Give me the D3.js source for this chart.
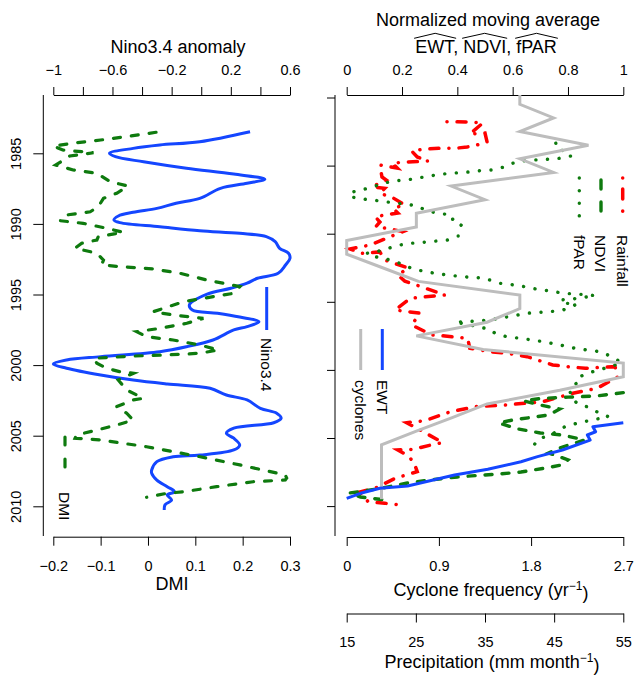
<!DOCTYPE html>
<html>
<head>
<meta charset="utf-8">
<script src="https://cdn.jsdelivr.net/npm/d3@7"></script>
<style>
	body { margin: 0; background: #fff; }
	svg { display: block; font-family: "Liberation Sans", Arial, Helvetica, sans-serif; }
</style>
</head>
<body>
<div id="chart"></div>
<script>
// ---- left panel: Nino3.4 (top axis) and DMI (bottom axis) vs year
var yearTicks = [1985, 1990, 1995, 2000, 2005, 2010];
var ninoTicks = [-1, -0.8, -0.6, -0.4, -0.2, 0, 0.2, 0.4, 0.6];
var ninoTickLabels = ["−1", "", "−0.6", "", "−0.2", "", "0.2", "", "0.6"];
var dmiTicks = [-0.2, -0.1, 0, 0.1, 0.2, 0.3];
var dmiTickLabels = ["−0.2", "−0.1", "0", "0.1", "0.2", "0.3"];

var ninoYear = [1983.47, 1984.18, 1984.41, 1984.65, 1985.0, 1985.24, 1985.6, 1986.06, 1986.47, 1986.84,
	1987.12, 1987.48, 1988.19, 1988.54, 1988.9, 1989.18, 1989.44, 1989.72, 1989.91, 1990.2,
	1990.48, 1990.67, 1990.9, 1991.26, 1991.73, 1992.08, 1992.44, 1992.91, 1993.5, 1993.85,
	1994.2, 1994.56, 1994.98, 1995.74, 1996.1, 1996.33, 1996.6, 1996.93, 1997.28, 1997.51,
	1998.22, 1998.7, 1999.05, 1999.4, 1999.64, 1999.92, 2000.22, 2000.7, 2001.06, 2001.34,
	2001.64, 2002.12, 2002.47, 2003.06, 2003.41, 2003.77, 2004.08, 2004.47, 2004.83, 2005.18,
	2005.66, 2006.01, 2006.37, 2006.49, 2006.84, 2007.43, 2007.66, 2008.14, 2008.61, 2008.97,
	2009.2, 2009.55, 2009.9, 2010.26];
var ninoVal = [0.33, -0.01, -0.28, -0.46, -0.62, -0.58, -0.39, -0.10, 0.22, 0.43,
	0.31, 0.13, -0.01, -0.17, -0.30, -0.46, -0.56, -0.59, -0.55, -0.28,
	-0.01, 0.26, 0.44, 0.50, 0.53, 0.59, 0.60, 0.57, 0.52, 0.38,
	0.31, 0.20, 0.04, -0.08, -0.06, 0.11, 0.26, 0.39, 0.31, 0.22,
	0.08, -0.10, -0.28, -0.68, -0.91, -1.0, -0.91, -0.68, -0.46, -0.23,
	0.06, 0.17, 0.31, 0.40, 0.51, 0.54, 0.49, 0.22, 0.17, 0.22,
	0.26, 0.22, -0.01, -0.19, -0.30, -0.335, -0.335, -0.30, -0.23, -0.18,
	-0.23, -0.20, -0.245, -0.25];

var dmiYear = [1983.51, 1983.82, 1984.06, 1984.25, 1984.48, 1984.77, 1984.96, 1985.19, 1985.83, 1986.18,
	1986.42, 1987.01, 1987.32, 1987.83, 1988.19, 1988.78, 1989.14, 1989.37, 1989.77, 1989.96,
	1990.31, 1990.6, 1990.9, 1991.14, 1991.37, 1991.73, 1991.85, 1992.08, 1992.56, 1992.91,
	1993.03, 1993.19, 1993.5, 1993.97, 1994.44, 1994.92, 1995.15, 1995.51, 1996.22, 1996.45,
	1996.69, 1997.04, 1997.4, 1997.63, 1997.99, 1998.22, 1998.58, 1998.93, 1999.16, 1999.28,
	1999.36, 1999.52, 1999.87, 2000.23, 2000.47, 2000.58, 2001.05, 2001.76, 2002.35, 2002.47,
	2002.94, 2003.41, 2003.89, 2004.24, 2004.6, 2004.95, 2005.18, 2005.3, 2005.78, 2006.49,
	2007.07, 2007.78, 2008.0, 2008.14, 2008.26, 2008.61, 2008.97, 2009.08, 2009.36];
var dmiVal = [0.017, -0.045, -0.10, -0.15, -0.20, -0.18, -0.115, -0.165, -0.195, -0.158,
	-0.108, -0.08, -0.042, -0.066, -0.094, -0.105, -0.122, -0.172, -0.186, -0.137,
	-0.087, -0.052, -0.105, -0.108, -0.14, -0.154, -0.137, -0.108, -0.094, -0.098,
	-0.059, 0.011, 0.068, 0.124, 0.194, 0.18, 0.138, 0.075, 0.011, 0.053,
	0.117, 0.082, 0.025, -0.024, -0.003, 0.053, 0.11, 0.149, 0.11, 0.04,
	-0.031, -0.115, -0.108, -0.087, -0.059, -0.031, -0.063, -0.045, -0.01, -0.031,
	-0.066, -0.045, -0.031, -0.066, -0.108, -0.151, -0.154, -0.101, -0.003, 0.11,
	0.194, 0.29, 0.293, 0.29, 0.222, 0.145, 0.075, 0.04, -0.003];

// ---- right panel: normalized series, cyclones, rainfall
var rightYearTicks = [1980, 1985, 1990, 1995, 2000, 2005, 2010];
var normTicks = [0, 0.2, 0.4, 0.6, 0.8, 1];
var normTickLabels = ["0", "0.2", "0.4", "0.6", "0.8", "1"];
var cycTicks = [0, 0.9, 1.8, 2.7];
var cycTickLabels = ["0", "0.9", "1.8", "2.7"];
var preTicks = [15, 25, 35, 45, 55];
var preTickLabels = ["15", "25", "35", "45", "55"];

var cycYear = d3.range(1979, 2010);
var cycFreq = [1.69, 1.69, 2.02, 1.69, 2.36, 1.69, 2.02, 1.02, 1.35, 0.68,
	0.68, 0, 0, 0.35, 0.70, 1.69, 1.69, 1.37, 0.68, 1.33,
	2.7, 2.7, 2.08, 1.37, 1.03, 0.68, 0.34, 0.34, 0.34, 0.34, 0.34];

var ewtYear = [2003.88, 2004.17, 2004.54, 2004.78, 2005.15, 2005.88, 2006.37, 2006.74, 2007.3, 2007.72,
	2008.52, 2008.69, 2009.06, 2009.43];
var ewtVal = [1.0, 0.89, 0.90, 0.87, 0.88, 0.78, 0.69, 0.63, 0.51, 0.39,
	0.22, 0.12, 0.05, 0.0];

var ndviYear = [2001.67, 2001.92, 2002.0, 2002.1, 2002.28, 2002.58, 2002.87, 2003.31, 2003.68, 2003.9,
	2004.34, 2004.63, 2004.78, 2005.15, 2005.66, 2006.1, 2006.6, 2006.97, 2007.2, 2007.5,
	2007.64, 2007.86, 2008.08, 2008.3, 2008.67, 2008.9, 2009.04, 2009.33, 2009.55];
var ndviVal = [1.0, 0.9, 0.8, 0.7, 0.64, 0.7, 0.77, 0.73, 0.6, 0.55,
	0.62, 0.7, 0.78, 0.86, 0.78, 0.73, 0.8, 0.78, 0.72, 0.63,
	0.55, 0.4, 0.3, 0.22, 0.13, 0.06, 0.01, 0.05, 0.14];

var fparYear = [1983.36, 1983.80, 1983.98, 1984.30, 1984.46, 1984.54, 1984.59, 1984.66, 1984.88, 1985.12,
	1985.32, 1985.37, 1985.47, 1985.54, 1985.62, 1985.74, 1985.89, 1986.06, 1986.11, 1986.30,
	1986.55, 1986.79, 1986.99, 1987.33, 1987.47, 1987.58, 1987.72, 1987.82, 1987.96, 1988.31,
	1988.50, 1988.63, 1988.94, 1989.29, 1989.73, 1990.17, 1990.46, 1990.54, 1990.63, 1990.70,
	1990.83, 1991.07, 1991.32, 1991.44, 1991.71, 1991.93, 1992.22, 1992.61, 1992.79, 1992.91,
	1993.03, 1993.11, 1993.20, 1993.25, 1993.64, 1993.77, 1993.94, 1994.13, 1994.19, 1994.38,
	1994.43, 1994.50, 1994.54, 1994.76, 1994.87, 1995.11, 1995.18, 1995.60, 1995.73, 1995.77,
	1995.84, 1996.04, 1996.19, 1996.34, 1996.39, 1996.46, 1996.48, 1997.02, 1997.31, 1997.56,
	1997.68, 1997.80, 1997.93, 1998.17, 1998.41, 1998.54, 1998.66, 1999.03, 1999.47, 1999.77,
	2000.01, 2000.26, 2000.50, 2000.87, 2001.11, 2001.48, 2001.92, 2002.45, 2002.70, 2003.07,
	2003.44, 2003.71, 2003.92, 2004.17, 2004.66, 2005.15, 2005.64, 2006.01];
var fparVal = [0.756, 0.759, 0.801, 0.81, 0.771, 0.723, 0.675, 0.633, 0.59, 0.566,
	0.524, 0.482, 0.44, 0.392, 0.349, 0.307, 0.265, 0.217, 0.175, 0.132,
	0.096, 0.054, 0.009, 0.024, 0.066, 0.114, 0.163, 0.211, 0.253, 0.289,
	0.331, 0.38, 0.383, 0.416, 0.403, 0.403, 0.367, 0.323, 0.277, 0.235,
	0.193, 0.15, 0.108, 0.072, 0.108, 0.157, 0.199, 0.241, 0.289, 0.319,
	0.362, 0.398, 0.446, 0.494, 0.554, 0.608, 0.657, 0.699, 0.735, 0.783,
	0.832, 0.873, 0.898, 0.832, 0.771, 0.795, 0.832, 0.783, 0.735, 0.699,
	0.651, 0.601, 0.554, 0.518, 0.476, 0.434, 0.392, 0.518, 0.536, 0.578,
	0.627, 0.669, 0.711, 0.771, 0.825, 0.868, 0.916, 0.958, 0.994, 0.952,
	0.91, 0.868, 0.843, 0.843, 0.819, 0.807, 0.81, 0.832, 0.868, 0.904,
	0.946, 0.88, 0.832, 0.789, 0.747, 0.687, 0.675, 0.699];

var rainYear = [1981.78, 1981.80, 1981.87, 1982.68, 1982.61, 1983.27, 1983.49, 1983.64, 1983.71, 1983.73,
	1983.80, 1983.93, 1984.37, 1984.66, 1984.77, 1984.83, 1985.18, 1984.96, 1985.84, 1986.06,
	1986.55, 1986.67, 1987.03, 1987.40, 1987.89, 1988.13, 1988.48, 1988.75, 1989.14, 1989.49,
	1989.65, 1989.85, 1990.83, 1991.12, 1991.44, 1991.34, 1991.93, 1992.52, 1993.04, 1993.48,
	1994.13, 1994.50, 1994.74, 1995.60, 1995.84, 1996.70, 1997.43, 1997.51, 1997.68, 1998.41,
	1998.66, 1998.78, 1999.03, 1999.64, 1999.76, 1999.88, 1999.76, 2000.52, 2001.35, 2001.72,
	2002.33, 2002.58, 2002.70, 2003.09, 2003.73, 2003.88, 2004.41, 2005.34, 2005.51, 2005.83,
	2005.88, 2006.25, 2006.76, 2007.47, 2007.96, 2008.69, 2008.96, 2009.68, 2009.79, 2009.92];
var rainVal = [29.5, 32.8, 34.7, 32.8, 35.0, 35.3, 33.8, 32.4, 31.0, 28.5,
	26.0, 24.4, 25.2, 26.8, 22.7, 21.6, 22.3, 19.8, 20.1, 20.7,
	18.7, 20.5, 19.8, 21.8, 23.4, 21.7, 22.4, 19.1, 19.8, 19.2,
	21.3, 23.1, 18.4, 15.5, 17.2, 19.8, 20.5, 23.9, 22.4, 23.4,
	27.1, 29.2, 24.2, 22.0, 25.6, 24.4, 27.3, 29.2, 32.5, 32.8,
	35.7, 38.2, 41.1, 44.8, 46.9, 49.5, 53.8, 54.2, 51.2, 47.7,
	43.4, 37.9, 33.6, 29.9, 26.3, 23.7, 25.6, 28.9, 27.2, 24.6,
	22.4, 23.7, 24.7, 25.2, 22.0, 19.1, 16.9, 18.1, 20.5, 23.0];

var BLUE = "#1446ff", GREEN = "#0e7a0e", RED = "#ff0000", GRAY = "#bdbdbd";
var TICK_FONT = 14.5, TITLE_FONT = 18, LEG_FONT = 15.5;

var svg = d3.select("#chart").append("svg")
	.attr("width", 634)
	.attr("height", 675);
svg.append("rect").attr("width", 634).attr("height", 675).attr("fill", "#fff");

var defs = svg.append("defs");
defs.append("clipPath").attr("id", "clipL").append("rect")
	.attr("x", 43.8).attr("y", 95).attr("width", 255.7).attr("height", 441.7);
defs.append("clipPath").attr("id", "clipR").append("rect")
	.attr("x", 335.6).attr("y", 95).attr("width", 300).attr("height", 441.7);

// scales
var yL = d3.scaleLinear().domain([1985, 2010]).range([153.3, 506.3]);
var xNino = d3.scaleLinear().domain([-1, 0.6]).range([53.3, 290]);
var xDmi = d3.scaleLinear().domain([-0.2, 0.3]).range([53.3, 290]);

var yR = d3.scaleLinear().domain([1980, 2010]).range([97.5, 506.1]);
var xNorm = d3.scaleLinear().domain([0, 1]).range([346.7, 623.3]);
var xCyc = d3.scaleLinear().domain([0, 2.7]).range([346.7, 623.3]);
var xPre = d3.scaleLinear().domain([15, 55]).range([346.7, 623.3]);

function styleAxis(g) {
	g.attr("font-size", null).attr("font-family", null);
	g.selectAll("text").style("font-size", TICK_FONT + "px").attr("fill", "#000");
	g.selectAll("line, path").attr("stroke", "#000").attr("stroke-width", 1);
}

function labelsFrom(arr) {
	return function(d, i) { return arr[i]; };
}

// ---- left panel axes
svg.append("g")
	.attr("transform", "translate(0,95)")
	.call(d3.axisTop(xNino).tickValues(ninoTicks).tickSize(8).tickSizeOuter(0).tickPadding(12)
		.tickFormat(labelsFrom(ninoTickLabels)))
	.call(styleAxis);

svg.append("g")
	.attr("transform", "translate(0,536.7)")
	.call(d3.axisBottom(xDmi).tickValues(dmiTicks).tickSize(9).tickSizeOuter(0).tickPadding(15)
		.tickFormat(labelsFrom(dmiTickLabels)))
	.call(styleAxis);

var yAxL = svg.append("g")
	.attr("transform", "translate(43.3,0)")
	.call(d3.axisLeft(yL).tickValues(yearTicks).tickSize(10).tickFormat(d3.format("d")))
	.call(styleAxis);
yAxL.select(".domain").remove();
yAxL.selectAll("text")
	.attr("x", null).attr("dy", null)
	.attr("text-anchor", "middle")
	.attr("transform", "translate(-22.6,0) rotate(-90)");
yAxL.append("line").attr("x1", 0).attr("x2", 0).attr("y1", 95).attr("y2", 536)
	.attr("stroke", "#000");

// ---- right panel axes
svg.append("g")
	.attr("transform", "translate(0,95)")
	.call(d3.axisTop(xNorm).tickValues(normTicks).tickSize(8).tickSizeOuter(0).tickPadding(12)
		.tickFormat(labelsFrom(normTickLabels)))
	.call(styleAxis);

svg.append("g")
	.attr("transform", "translate(0,537)")
	.call(d3.axisBottom(xCyc).tickValues(cycTicks).tickSize(9).tickSizeOuter(0).tickPadding(15)
		.tickFormat(labelsFrom(cycTickLabels)))
	.call(styleAxis);

svg.append("g")
	.attr("transform", "translate(0,613.5)")
	.call(d3.axisBottom(xPre).tickValues(preTicks).tickSize(9).tickSizeOuter(0).tickPadding(14)
		.tickFormat(labelsFrom(preTickLabels)))
	.call(styleAxis);

var yAxR = svg.append("g")
	.attr("transform", "translate(335,0)")
	.call(d3.axisLeft(yR).tickValues(rightYearTicks).tickSize(8).tickFormat(""))
	.call(styleAxis);
yAxR.select(".domain").remove();
yAxR.append("line").attr("x1", 0).attr("x2", 0).attr("y1", 95).attr("y2", 536)
	.attr("stroke", "#000");

// ---- titles
function title(x, y, parts) {
	var t = svg.append("text").attr("x", x).attr("y", y)
		.attr("text-anchor", "middle")
		.style("font-size", TITLE_FONT + "px");
	parts.forEach(function(p) {
		var s = t.append("tspan").text(p.t);
		if (p.sup) s.attr("dy", "-0.5em").style("font-size", "12px");
		if (p.down) s.attr("dy", "0.5em");
	});
	return t;
}
title(178, 53, [{t: "Nino3.4 anomaly"}]);
title(172, 590, [{t: "DMI"}]);
title(488, 26, [{t: "Normalized moving average"}]);
title(491, 596, [{t: "Cyclone frequency (yr"}, {t: "−1", sup: true}, {t: ")", down: true}]);
title(492, 667.5, [{t: "Precipitation (mm month"}, {t: "−1", sup: true}, {t: ")", down: true}]);

// hatted names
var hatWords = [{t: "EWT", hat: true}, {t: ", "}, {t: "NDVI", hat: true}, {t: ", "}, {t: "fPAR", hat: true}];
var hatText = svg.append("text").attr("x", 486).attr("y", 52.5)
	.attr("text-anchor", "middle")
	.style("font-size", TITLE_FONT + "px")
	.attr("xml:space", "preserve");
var hatSpans = hatWords.map(function(w) {
	return {w: w, node: hatText.append("tspan").text(w.t).node()};
});
hatSpans.forEach(function(s) {
	if (!s.w.hat) return;
	var bb = s.node.getBBox();
	var x0 = bb.x - 1, x1 = bb.x + bb.width + 1;
	svg.append("path")
		.attr("d", "M" + x0 + ",38.3 L" + ((x0 + x1) / 2) + ",33.3 L" + x1 + ",38.3")
		.attr("fill", "none").attr("stroke", "#000").attr("stroke-width", 1);
});

// ---- series
function pairs(a, b) { return d3.zip(a, b); }

var gL = svg.append("g").attr("clip-path", "url(#clipL)");
gL.append("path")
	.datum(pairs(ninoYear, ninoVal))
	.attr("d", d3.line().curve(d3.curveCatmullRom)
		.x(function(d) { return xNino(d[1]); })
		.y(function(d) { return yL(d[0]); }))
	.attr("fill", "none").attr("stroke", BLUE).attr("stroke-width", 3)
	.attr("stroke-linejoin", "round");
gL.append("path")
	.datum(pairs(dmiYear, dmiVal))
	.attr("d", d3.line()
		.x(function(d) { return xDmi(d[1]); })
		.y(function(d) { return yL(d[0]); }))
	.attr("fill", "none").attr("stroke", GREEN).attr("stroke-width", 3.2)
	.attr("stroke-dasharray", "7,11").attr("stroke-linecap", "round");

var gR = svg.append("g").attr("clip-path", "url(#clipR)");
var normLine = d3.line()
	.x(function(d) { return xNorm(d[1]); })
	.y(function(d) { return yR(d[0]); });

gR.append("path")
	.datum(pairs(rainYear, rainVal))
	.attr("d", d3.line()
		.x(function(d) { return xPre(d[1]); })
		.y(function(d) { return yR(d[0]); }))
	.attr("fill", "none").attr("stroke", RED).attr("stroke-width", 3.5)
	.attr("stroke-dasharray", "0.1,10,9,10").attr("stroke-linecap", "round");
gR.append("path")
	.datum(pairs(fparYear, fparVal))
	.attr("d", normLine)
	.attr("fill", "none").attr("stroke", GREEN).attr("stroke-width", 3.4)
	.attr("stroke-dasharray", "0.1,11.5").attr("stroke-linecap", "round");
gR.append("path")
	.datum(pairs(ndviYear, ndviVal))
	.attr("d", normLine)
	.attr("fill", "none").attr("stroke", GREEN).attr("stroke-width", 3.4)
	.attr("stroke-dasharray", "7,10").attr("stroke-linecap", "round");
// cyclone counts are seasonal, plotted at mid-year
gR.append("path")
	.datum(pairs(cycYear, cycFreq))
	.attr("d", d3.line()
		.x(function(d) { return xCyc(d[1]); })
		.y(function(d) { return yR(d[0] + 0.5); }))
	.attr("fill", "none").attr("stroke", GRAY).attr("stroke-width", 3);
gR.append("path")
	.datum(pairs(ewtYear, ewtVal))
	.attr("d", normLine)
	.attr("fill", "none").attr("stroke", BLUE).attr("stroke-width", 3)
	.attr("stroke-linejoin", "round");

// ---- legends (vertical, text reading downwards)
var legends = [
	{x: 266.7, y0: 287, y1: 330, ty: 338, label: "Nino3.4", color: BLUE, w: 3, dash: null},
	{x: 65, y0: 437, y1: 470, ty: 492, label: "DMI", color: GREEN, w: 3.2, dash: "8,14"},
	{x: 622.7, y0: 178, y1: 213.5, ty: 235, label: "Rainfall", color: RED, w: 3.5, dash: "0.1,11,10,12"},
	{x: 601, y0: 180, y1: 212, ty: 235, label: "NDVI", color: GREEN, w: 3.4, dash: "9,13"},
	{x: 579.3, y0: 178, y1: 216, ty: 235, label: "fPAR", color: GREEN, w: 3.4, dash: "0.1,12.5"},
	{x: 382.3, y0: 329, y1: 370, ty: 380, label: "EWT", color: BLUE, w: 3, dash: null},
	{x: 360.7, y0: 329, y1: 370, ty: 380, label: "cyclones", color: GRAY, w: 3, dash: null}
];
legends.forEach(function(l) {
	var ln = svg.append("line")
		.attr("x1", l.x).attr("x2", l.x).attr("y1", l.y0).attr("y2", l.y1)
		.attr("stroke", l.color).attr("stroke-width", l.w);
	if (l.dash) ln.attr("stroke-dasharray", l.dash).attr("stroke-linecap", "round");
	svg.append("text")
		.attr("transform", "translate(" + l.x + "," + l.ty + ") rotate(90)")
		.attr("dy", "0.36em")
		.style("font-size", LEG_FONT + "px")
		.text(l.label);
});
</script>
</body>
</html>
